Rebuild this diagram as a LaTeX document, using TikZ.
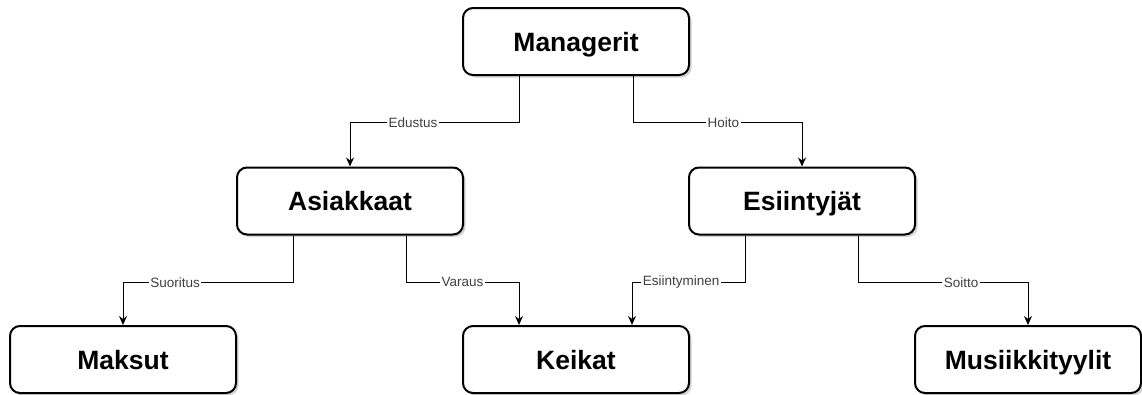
\documentclass[tikz,border=0pt]{standalone}
\usepackage{fontspec}
\setmainfont{Liberation Sans}
\usetikzlibrary{arrows.meta,shadows}
\definecolor{lblgray}{HTML}{404040}
\tikzset{
  entity/.style={draw=black, line width=2pt, fill=white, rounded corners=10pt,
    minimum width=226pt, minimum height=67pt, inner sep=0pt,
    text height=19pt, text depth=0pt,
    font=\fontsize{26.5}{30}\selectfont\bfseries,
    drop shadow={shadow xshift=2.5pt, shadow yshift=-2.5pt, opacity=0.35, fill=gray}},
  edge/.style={draw=black, line width=1pt, -{Stealth[length=9pt,width=8pt]}},
  lbl/.style={fill=white, inner sep=1.5pt, text=lblgray, font=\fontsize{13.5}{16}\selectfont}
}
\begin{document}
\begin{tikzpicture}[x=1pt,y=-1pt]
\useasboundingbox (0,0) rectangle (1142,394);
\node[entity] (man) at (576,41.5) {Managerit};
\node[entity] (asi) at (350,201) {Asiakkaat};
\node[entity] (esi) at (802,201) {Esiintyjät};
\node[entity] (mak) at (123,359.5) {Maksut};
\node[entity] (kei) at (576,359.5) {Keikat};
\node[entity] (mus) at (1028,359.5) {Musiikkityylit};

\draw[edge] ([xshift=-57pt]man.south) -- ++(0,46.7) -- node[lbl,pos=0.627]{Edustus} ++(-169,0) -- (asi.north);
\draw[edge] ([xshift=57pt]man.south) -- ++(0,46.7) -- node[lbl,pos=0.535]{Hoito} ++(169,0) -- (esi.north);
\draw[edge] ([xshift=-57pt]asi.south) -- ++(0,46.7) -- node[lbl,pos=0.694]{Suoritus} ++(-170,0) -- (mak.north);
\draw[edge] ([xshift=56pt]asi.south) -- ++(0,46.7) -- node[lbl,pos=0.5]{Varaus} ++(113,0) -- ([xshift=-57pt]kei.north);
\draw[edge] ([xshift=-57pt]esi.south) -- ++(0,46.7) -- node[lbl,pos=0.566]{Esiintyminen} ++(-113,0) -- ([xshift=56pt]kei.north);
\draw[edge] ([xshift=56pt]esi.south) -- ++(0,46.7) -- node[lbl,pos=0.606]{Soitto} ++(170,0) -- (mus.north);
\end{tikzpicture}
\end{document}
